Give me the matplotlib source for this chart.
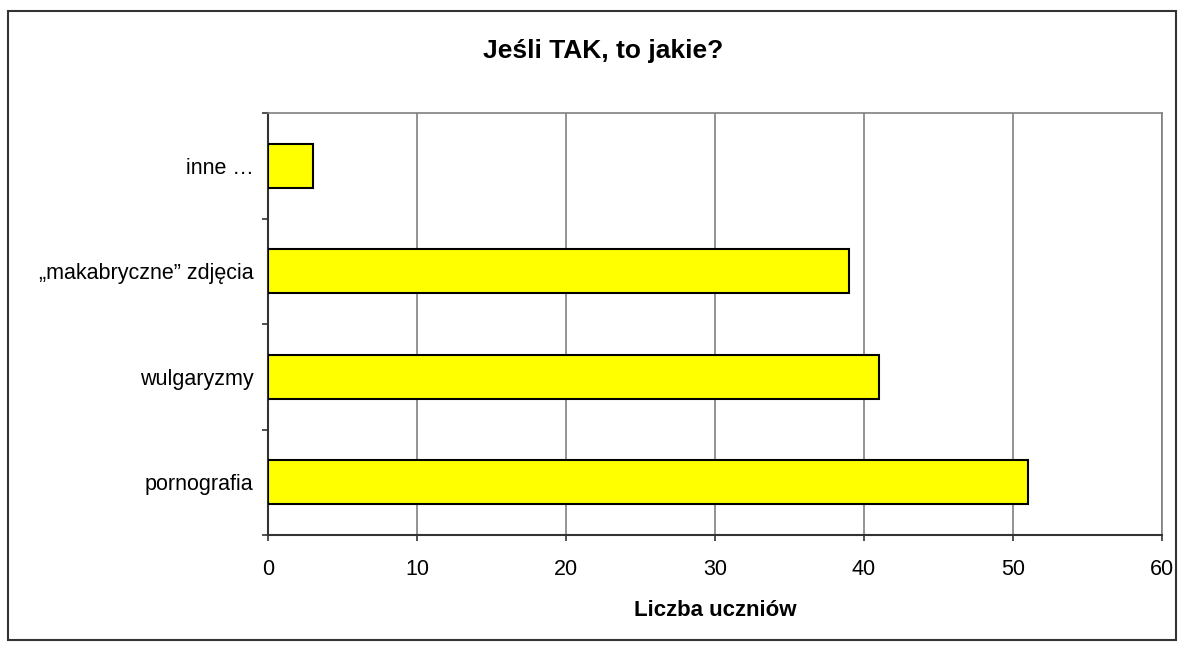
import matplotlib
matplotlib.use("Agg")
import matplotlib.pyplot as plt
from matplotlib.patches import Rectangle
import numpy as np

categories = ["pornografia", "wulgaryzmy", "\u201emakabryczne\u201d zdj\u0119cia", "inne \u2026"]
values = [51, 41, 39, 3]
xticks = [0, 10, 20, 30, 40, 50, 60]

plt.rcParams['font.family'] = ['Liberation Sans', 'DejaVu Sans']

fig = plt.figure(figsize=(11.84, 6.48), dpi=100)
ax = fig.add_axes([268/1184, 1-535/648, (1162-268)/1184, (535-113)/648])

y = np.arange(len(categories))
ax.barh(y, values, height=0.42, color="#FFFF00", edgecolor="black", linewidth=1.5, zorder=3)

ax.set_xlim(0, 60)
ax.set_ylim(-0.5, len(categories)-0.5)
ax.set_xticks(xticks)
ax.set_xticklabels([str(t) for t in xticks], fontsize=15.5)
ax.set_yticks(y)
ax.set_yticklabels(categories, fontsize=15.5)
ax.set_yticks(np.arange(-0.5, len(categories), 1.0), minor=True)
ax.tick_params(axis='y', which='major', length=0, pad=10.5)
ax.tick_params(axis='y', which='minor', length=4, width=1.2, color="#333333", direction='out')
ax.tick_params(axis='x', which='major', length=4, width=1.2, color="#333333", direction='out', pad=13)

ax.grid(axis='x', color="#808080", linewidth=1.2, zorder=0)
ax.set_axisbelow(True)
for s in ['top', 'right']:
    ax.spines[s].set_color("#808080")
    ax.spines[s].set_linewidth(1.2)
for s in ['left', 'bottom']:
    ax.spines[s].set_color("#333333")
    ax.spines[s].set_linewidth(1.5)

ax.set_xlabel("Liczba uczniów", fontsize=16, fontweight='bold', labelpad=15)
fig.text(603/1184, 1-51/648, "Jeśli TAK, to jakie?", fontsize=19, fontweight='bold',
         ha='center', va='center')

fig.patches.append(Rectangle((8/1184, 1-640/648), (1176-8)/1184, (640-11)/648,
                             transform=fig.transFigure, fill=False, edgecolor="#333333", linewidth=1.5))

fig.savefig("out.png", dpi=100)
